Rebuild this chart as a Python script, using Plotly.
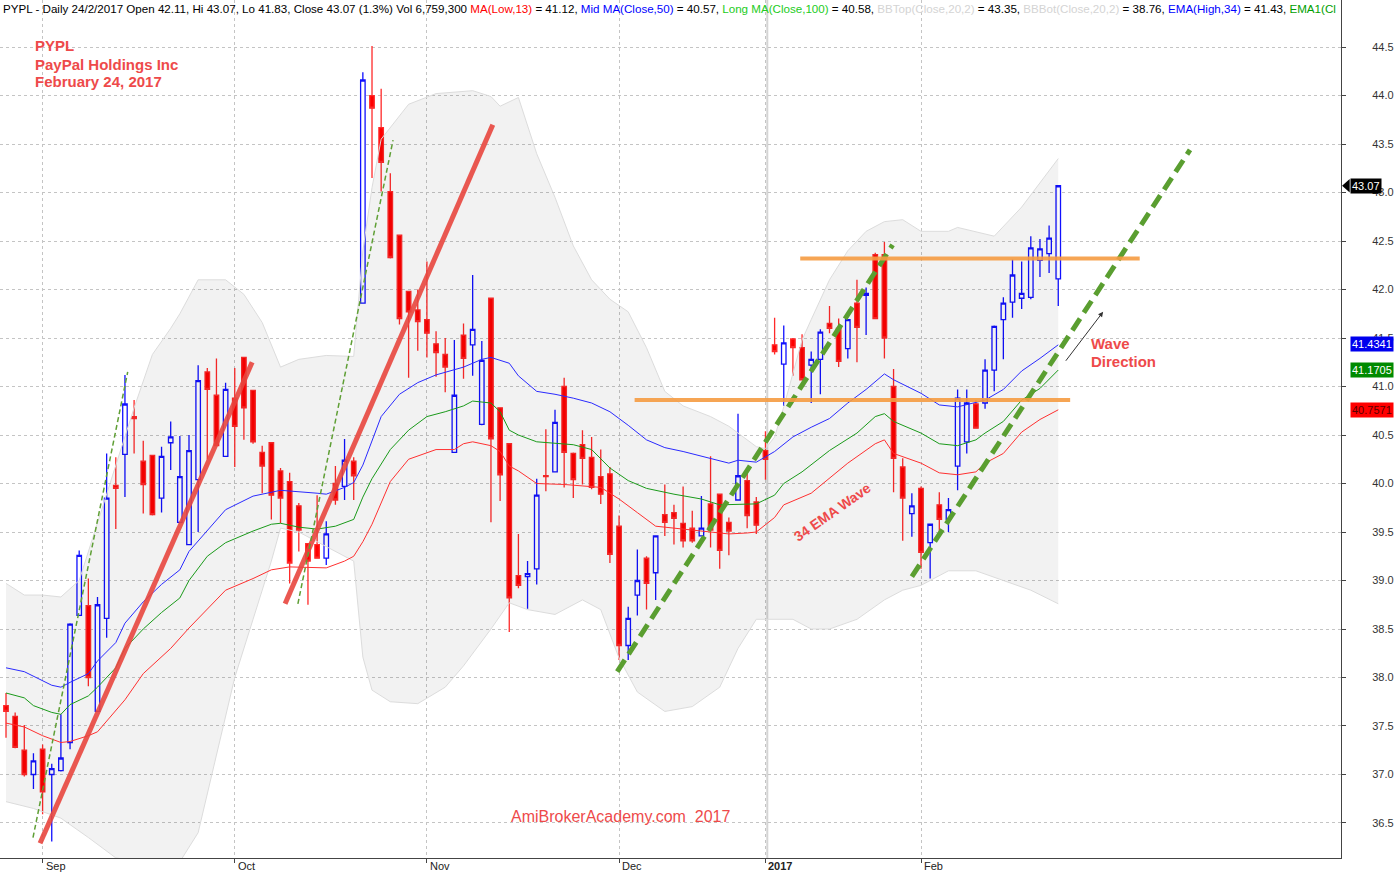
import plotly.graph_objects as go

# ---------------- data ----------------
opens = [37.71, 37.60, 37.25, 37.00, 37.26, 37.00, 37.04, 37.33, 38.64, 38.74,
         37.65, 38.61, 39.98, 40.30, 40.69, 40.23, 40.29, 39.85, 40.42, 39.60,
         39.37, 40.04, 41.15, 40.91, 40.28, 40.88, 41.30, 40.96, 40.32, 40.42,
         40.13, 40.02, 39.77, 39.38, 39.37, 39.23, 40.00, 39.97, 40.23, 41.86,
         44.00, 43.67, 43.01, 42.56, 41.98, 41.79, 41.69, 41.44, 41.33, 40.32,
         41.53, 41.43, 40.61, 41.91, 40.78, 40.41, 39.05, 39.04, 39.12, 40.08,
         40.12, 41.00, 40.31, 40.40, 40.27, 40.07, 40.10, 39.56, 38.33, 38.85,
         39.23, 39.08, 39.68, 39.70, 39.59, 39.54, 39.46, 39.79, 39.89, 39.60,
         39.83, 40.03, 39.81, 40.34, 41.43, 41.23, 41.49, 41.40, 41.22, 41.28,
         41.65, 41.60, 41.39, 41.86, 41.94, 42.36, 42.36, 41.00, 40.17, 39.69,
         39.95, 39.39, 39.78, 39.63, 40.18, 40.43, 40.82, 40.83, 41.17, 41.69,
         41.87, 41.91, 41.92, 42.30, 42.37, 42.11]
highs = [37.84, 37.64, 37.51, 37.22, 37.31, 37.11, 37.62, 38.56, 39.31, 39.02,
         38.83, 40.31, 40.27, 41.12, 40.86, 40.44, 40.29, 40.38, 40.64, 40.49,
         40.50, 41.22, 41.19, 41.29, 41.04, 41.19, 41.30, 40.96, 40.39, 40.42,
         40.16, 40.11, 39.80, 39.38, 39.88, 39.61, 40.18, 40.46, 40.27, 44.24,
         44.51, 44.07, 43.20, 42.56, 41.98, 42.00, 42.29, 41.57, 41.50, 41.48,
         41.65, 42.15, 41.47, 41.91, 40.78, 40.41, 39.48, 39.20, 40.05, 40.56,
         40.76, 41.09, 40.32, 40.55, 40.48, 40.35, 40.17, 39.67, 38.73, 39.32,
         39.25, 39.46, 39.99, 39.78, 39.97, 39.72, 39.87, 40.28, 39.89, 39.65,
         40.72, 40.10, 39.86, 40.54, 41.71, 41.63, 41.50, 41.54, 41.36, 41.59,
         41.83, 41.70, 41.69, 42.10, 42.02, 42.38, 42.49, 41.18, 40.26, 39.90,
         39.97, 39.58, 39.91, 39.85, 40.97, 40.97, 40.86, 41.28, 41.63, 41.92,
         42.31, 42.29, 42.55, 42.52, 42.66, 43.07]
lows = [37.38, 37.27, 36.98, 36.85, 36.59, 36.31, 37.03, 37.26, 38.64, 37.91,
        37.65, 38.41, 39.53, 39.86, 40.31, 39.69, 39.67, 39.70, 40.14, 39.59,
        39.37, 39.50, 40.25, 40.39, 40.28, 40.17, 40.45, 40.41, 39.90, 39.63,
        39.59, 38.97, 39.30, 38.75, 39.23, 39.16, 39.78, 39.83, 39.83, 41.86,
        43.15, 43.01, 42.32, 41.64, 41.09, 41.37, 41.30, 41.10, 40.94, 40.32,
        41.08, 41.11, 40.60, 39.60, 39.82, 38.47, 38.92, 38.71, 38.96, 39.92,
        40.12, 39.96, 39.85, 39.99, 39.94, 39.79, 39.18, 38.18, 38.18, 38.64,
        38.70, 38.80, 39.46, 39.37, 39.34, 39.39, 39.46, 39.34, 39.12, 39.26,
        39.83, 39.54, 39.48, 40.04, 41.33, 40.80, 41.11, 41.07, 40.83, 40.92,
        41.55, 41.20, 41.29, 41.25, 41.53, 41.70, 41.29, 39.91, 39.41, 39.45,
        39.12, 39.02, 39.45, 39.50, 39.93, 40.31, 40.57, 40.77, 40.95, 41.28,
        41.71, 41.80, 41.90, 42.13, 42.17, 41.83]
closes = [37.65, 37.28, 37.00, 37.14, 36.82, 37.06, 37.17, 38.55, 39.26, 38.00,
          38.75, 39.85, 39.95, 40.82, 40.67, 39.99, 39.68, 40.28, 40.48, 40.07,
          40.34, 41.06, 40.97, 40.39, 40.97, 40.59, 40.78, 40.43, 40.18, 39.88,
          39.85, 39.18, 39.52, 39.20, 39.23, 39.48, 39.83, 40.24, 40.08, 44.16,
          43.87, 43.31, 42.33, 41.70, 41.77, 41.67, 41.55, 41.35, 41.20, 40.91,
          41.29, 41.59, 41.27, 40.46, 40.09, 38.82, 38.95, 39.07, 39.88, 40.07,
          40.63, 40.32, 40.04, 40.26, 39.96, 39.89, 39.27, 38.33, 38.61, 39.00,
          38.97, 39.46, 39.60, 39.64, 39.41, 39.41, 39.54, 39.52, 39.31, 39.51,
          40.08, 39.67, 39.57, 40.25, 41.36, 41.45, 41.40, 41.07, 41.28, 41.56,
          41.60, 41.26, 41.69, 41.61, 41.96, 41.70, 41.50, 40.26, 39.85, 39.77,
          39.29, 39.58, 39.63, 39.73, 40.88, 40.83, 40.57, 41.17, 41.62, 41.86,
          42.15, 41.96, 42.43, 42.42, 42.53, 43.07]

month_labels = ["Sep", "Oct", "Nov", "Dec", "2017", "Feb"]
month_pos = [4, 25, 46, 67, 83, 100]

ema_high_x = [0, 2, 5, 6, 7, 9, 10, 12, 13, 15, 17, 19, 20, 22, 24, 27, 30, 34, 35, 37, 38, 39, 41, 43, 45, 47, 50,
              52, 53, 55, 56, 58, 60, 62, 64, 66, 68, 70, 72, 74, 76, 79, 80, 82, 84, 86, 88, 90, 92, 94, 96, 97,
              100, 102, 104, 106, 107, 109, 111, 113, 115]
ema_high_y = [38.10, 38.06, 37.92, 37.90, 37.95, 38.04, 38.17, 38.36, 38.56, 38.78, 38.96, 39.11, 39.30, 39.52,
              39.73, 39.87, 39.93, 39.90, 39.89, 39.96, 40.01, 40.19, 40.69, 40.92, 41.04, 41.12, 41.20, 41.28,
              41.30, 41.24, 41.11, 40.95, 40.92, 40.88, 40.83, 40.74, 40.60, 40.45, 40.37, 40.33, 40.28, 40.21,
              40.24, 40.22, 40.33, 40.48, 40.58, 40.67, 40.83, 40.97, 41.13, 41.07, 40.93, 40.81, 40.79, 40.84,
              40.86, 40.97, 41.16, 41.29, 41.43]

ema_close_x = [0, 2, 3, 5, 6, 7, 9, 10, 12, 13, 15, 17, 19, 20, 22, 24, 27, 29, 30, 32, 34, 36, 38, 39, 40, 42, 44,
               46, 48, 50, 51, 53, 54, 55, 56, 58, 62, 64, 66, 68, 70, 73, 76, 78, 82, 84, 85, 87, 90, 93, 95, 96,
               97, 100, 102, 104, 106, 107, 109, 111, 113, 115]
ema_close_y = [37.84, 37.79, 37.71, 37.64, 37.62, 37.72, 37.81, 37.90, 38.10, 38.30, 38.50, 38.67, 38.82, 39.00,
               39.25, 39.39, 39.51, 39.58, 39.59, 39.55, 39.53, 39.56, 39.63, 39.86, 40.05, 40.35, 40.55, 40.69,
               40.74, 40.80, 40.85, 40.83, 40.74, 40.55, 40.50, 40.43, 40.40, 40.35, 40.16, 40.03, 39.95, 39.89,
               39.84, 39.78, 39.79, 39.88, 40.00, 40.12, 40.34, 40.52, 40.69, 40.72, 40.64, 40.52, 40.41, 40.39,
               40.45, 40.52, 40.64, 40.86, 40.98, 41.17]

ema_low_x = [0, 2, 4, 6, 7, 9, 10, 11, 13, 15, 17, 18, 20, 22, 24, 27, 29, 31, 35, 37, 38, 39, 40, 42, 44, 47, 49,
             50, 51, 53, 54, 55, 56, 58, 61, 65, 67, 69, 71, 74, 76, 79, 81, 82, 84, 85, 88, 89, 92, 95, 96, 97,
             100, 102, 104, 106, 107, 109, 111, 113, 115]
ema_low_y = [37.53, 37.49, 37.40, 37.33, 37.34, 37.40, 37.44, 37.55, 37.77, 38.04, 38.21, 38.30, 38.51, 38.71,
             38.90, 39.02, 39.11, 39.14, 39.13, 39.20, 39.25, 39.40, 39.58, 40.02, 40.25, 40.35, 40.35, 40.41,
             40.43, 40.39, 40.33, 40.18, 40.13, 40.00, 39.99, 39.96, 39.84, 39.70, 39.56, 39.53, 39.51, 39.48,
             39.49, 39.50, 39.65, 39.78, 39.90, 39.98, 40.21, 40.41, 40.45, 40.31, 40.21, 40.11, 40.09, 40.12,
             40.21, 40.31, 40.53, 40.66, 40.76]

bb_top_x = [0, 2, 4, 6, 8, 10, 12, 14, 16, 18, 19, 21, 24, 26, 28, 30, 32, 35, 38, 39, 40, 41, 44, 47, 51, 53,
            54, 56, 58, 60, 62, 64, 66, 68, 70, 72, 74, 77, 79, 82, 83, 84, 85, 86, 87, 88, 90, 92, 94, 96, 98,
            100, 103, 104, 108, 111, 113, 115]
bb_top_y = [38.97, 38.85, 38.85, 38.83, 39.00, 39.60, 40.20, 40.78, 41.33, 41.60, 41.75, 42.10, 42.10, 41.95,
            41.66, 41.20, 41.28, 41.32, 41.31, 42.40, 43.05, 43.55, 43.91, 44.02, 44.05, 43.99, 43.89, 43.98,
            43.40, 42.95, 42.45, 42.10, 41.90, 41.77, 41.40, 40.95, 40.80, 40.69, 40.59, 40.38, 40.36, 40.48,
            40.79, 41.14, 41.48, 41.69, 42.10, 42.40, 42.60, 42.70, 42.72, 42.60, 42.60, 42.64, 42.55, 42.85,
            43.10, 43.35]
bb_bot_x = [0, 3, 6, 9, 12, 15, 19, 21, 23, 25, 27, 29, 30, 32, 34, 36, 38, 39, 40, 42, 45, 48, 50, 53, 55, 57,
            60, 63, 65, 67, 69, 72, 75, 78, 80, 82, 84, 86, 88, 90, 93, 96, 98, 100, 103, 106, 109, 112, 115]
bb_bot_y = [36.72, 36.65, 36.55, 36.35, 36.14, 36.10, 36.10, 36.40, 37.20, 38.00, 38.60, 39.20, 39.54, 39.50,
            39.40, 39.30, 39.20, 38.21, 37.87, 37.75, 37.73, 37.90, 38.12, 38.50, 38.77, 38.70, 38.65, 38.80,
            38.70, 38.20, 37.85, 37.65, 37.70, 37.90, 38.30, 38.60, 38.60, 38.60, 38.50, 38.50, 38.60, 38.80,
            38.90, 38.95, 39.10, 39.10, 39.00, 38.90, 38.76]

# ---------------- figure ----------------
RED_TXT = "#EE4A4A"
FONT = "Liberation Sans, Arial"
fig = go.Figure()

# Bollinger band
fig.add_trace(go.Scatter(
    x=bb_top_x + bb_bot_x[::-1], y=bb_top_y + bb_bot_y[::-1],
    fill="toself", fillcolor="rgba(0,0,0,0.05)", mode="none", hoverinfo="skip", showlegend=False))
fig.add_trace(go.Scatter(x=bb_top_x, y=bb_top_y, mode="lines",
                         line=dict(color="#dcdcdc", width=1), hoverinfo="skip", showlegend=False))
fig.add_trace(go.Scatter(x=bb_bot_x, y=bb_bot_y, mode="lines",
                         line=dict(color="#dcdcdc", width=1), hoverinfo="skip", showlegend=False))

# EMA wave lines
fig.add_trace(go.Scatter(x=ema_high_x, y=ema_high_y, mode="lines",
                         line=dict(color="#2a2aff", width=1), showlegend=False))
fig.add_trace(go.Scatter(x=ema_close_x, y=ema_close_y, mode="lines",
                         line=dict(color="#1a9a1a", width=1), showlegend=False))
fig.add_trace(go.Scatter(x=ema_low_x, y=ema_low_y, mode="lines",
                         line=dict(color="#ff3030", width=1), showlegend=False))

# candles
fig.add_trace(go.Candlestick(
    x=list(range(len(opens))), open=opens, high=highs, low=lows, close=closes,
    increasing=dict(line=dict(color="#1010ff", width=1.3), fillcolor="#ffffff"),
    decreasing=dict(line=dict(color="#ff2a2a", width=1.3), fillcolor="#ff0000"),
    whiskerwidth=0, showlegend=False))

shapes = []
# 2017 separator
shapes.append(dict(type="line", xref="x", yref="paper", x0=83.2, x1=83.2, y0=0, y1=1,
                   line=dict(color="#d4d4d4", width=2), layer="below"))

# drawn trend lines (annotation drawings)
drawings = [
    # (x0, y0, x1, y1, color, width, dash)
    (3.72, 36.29, 26.9, 41.25, "rgba(232,70,62,0.9)", 5, "solid"),
    (30.5, 38.76, 53.2, 43.70, "rgba(232,70,62,0.9)", 5, "solid"),
    (2.95, 36.35, 13.3, 41.15, "#5f9f35", 1.5, "5px,3px"),
    (31.9, 38.76, 42.3, 43.54, "#5f9f35", 1.5, "5px,3px"),
    (66.8, 38.06, 96.9, 42.46, "#5a9e30", 5, "14px,7px"),
    (99.0, 39.04, 129.4, 43.44, "#5a9e30", 5, "14px,7px"),
    (86.8, 42.32, 123.9, 42.32, "rgba(245,155,65,0.9)", 4, "solid"),
    (68.7, 40.86, 116.3, 40.86, "rgba(245,155,65,0.9)", 4, "solid"),
]
for x0, y0, x1, y1, c, w, d in drawings:
    shapes.append(dict(type="line", xref="x", yref="y", x0=x0, y0=y0, x1=x1, y1=y1,
                       line=dict(color=c, width=w, dash=d)))

# price pointer triangle for last close
shapes.append(dict(type="path", xref="paper", yref="y",
                   path="M 1.0008 43.07 L 1.0065 43.14 L 1.0065 43.0 Z",
                   fillcolor="#000000", line=dict(width=0)))

annotations = []
header = ("PYPL - Daily 24/2/2017 Open 42.11, Hi 43.07, Lo 41.83, Close 43.07 (1.3%) Vol 6,759,300 "
          "<span style='color:#ff0000'>MA(Low,13)</span> = 41.12, "
          "<span style='color:#0000ff'>Mid MA(Close,50)</span> = 40.57, "
          "<span style='color:#22cc22'>Long MA(Close,100)</span> = 40.58, "
          "<span style='color:#d4d4d4'>BBTop(Close,20,2)</span> = 43.35, "
          "<span style='color:#d4d4d4'>BBBot(Close,20,2)</span> = 38.76, "
          "<span style='color:#0000ff'>EMA(High,34)</span> = 41.43, "
          "<span style='color:#00a000'>EMA1(Cl</span>")
annotations.append(dict(text=header, xref="paper", yref="paper", x=0.001, y=1.0, xanchor="left",
                        yanchor="top", showarrow=False, font=dict(family=FONT, size=11.6, color="#000000")))
for txt, yy in [("PYPL", 44.52), ("PayPal Holdings Inc", 44.325), ("February 24, 2017", 44.14)]:
    annotations.append(dict(text="<b>%s</b>" % txt, x=2.95, y=yy, xref="x", yref="y", xanchor="left",
                            yanchor="middle", showarrow=False,
                            font=dict(family=FONT, size=15, color=RED_TXT)))
annotations.append(dict(text="AmiBrokerAcademy.com&nbsp; 2017", x=67.2, y=36.57, xref="x", yref="y",
                        showarrow=False, font=dict(family=FONT, size=16, color=RED_TXT)))
annotations.append(dict(text="<b>Wave</b>", x=118.4, y=41.44, xref="x", yref="y", xanchor="left",
                        showarrow=False, font=dict(family=FONT, size=15, color=RED_TXT)))
annotations.append(dict(text="<b>Direction</b>", x=118.4, y=41.255, xref="x", yref="y", xanchor="left",
                        showarrow=False, font=dict(family=FONT, size=15, color=RED_TXT)))
annotations.append(dict(text="<b>34 EMA Wave</b>", x=90.3, y=39.71, xref="x", yref="y", textangle=-35,
                        showarrow=False, font=dict(family=FONT, size=14, color=RED_TXT)))
annotations.append(dict(text="", x=119.9, y=41.77, ax=115.7, ay=41.25, xref="x", yref="y", axref="x",
                        ayref="y", showarrow=True, arrowhead=2, arrowsize=1, arrowwidth=1, arrowcolor="#333333"))

# right-edge value labels
for val, txt, bg, fc in [(43.07, "43.07", "#000000", "#ffffff"), (41.4341, "41.4341", "#0000ee", "#ffffff"),
                         (41.1705, "41.1705", "#008a00", "#ffffff"), (40.7571, "40.7571", "#ff0000", "#5a0000")]:
    annotations.append(dict(text=txt, xref="paper", yref="y", x=1.0065, y=val, xanchor="left",
                            yanchor="middle", showarrow=False, bgcolor=bg, borderpad=1,
                            font=dict(family=FONT, size=11, color=fc)))

# month labels
for lab, pos in zip(month_labels, month_pos):
    annotations.append(dict(text=("<b>%s</b>" % lab) if lab == "2017" else lab, x=pos, y=0, xref="x",
                            yref="paper", xanchor="left", yanchor="top", xshift=1, yshift=0, showarrow=False,
                            font=dict(family=FONT, size=11, color="#222222")))

fig.update_layout(
    width=1400, height=874, margin=dict(l=0, r=59, t=0, b=16),
    paper_bgcolor="#ffffff", plot_bgcolor="#ffffff",
    shapes=shapes, annotations=annotations, showlegend=False,
    xaxis=dict(range=[-0.656, 145.9], tickvals=month_pos, showticklabels=False, showgrid=True,
               gridcolor="#c4c4c4", griddash="dot", gridwidth=1, ticks="outside", ticklen=4,
               tickcolor="#444", showline=True, linecolor="#444", linewidth=1, zeroline=False,
               rangeslider=dict(visible=False), fixedrange=True),
    yaxis=dict(range=[36.139, 44.985], side="right", tickvals=[36.5 + 0.5 * k for k in range(17)],
               ticktext=["%.1f" % (36.5 + 0.5 * k) for k in range(17)], showgrid=True, gridcolor="#c4c4c4",
               griddash="dot", gridwidth=1, ticks="outside", ticklen=4, tickcolor="#444", showline=True,
               linecolor="#444", linewidth=1, zeroline=False, ticklabelstandoff=24,
               tickfont=dict(family=FONT, size=11, color="#333333")),
)

fig.write_html("out.html", config={"displayModeBar": False},
               post_script="document.body.style.margin='0px';document.body.style.overflow='hidden';")
